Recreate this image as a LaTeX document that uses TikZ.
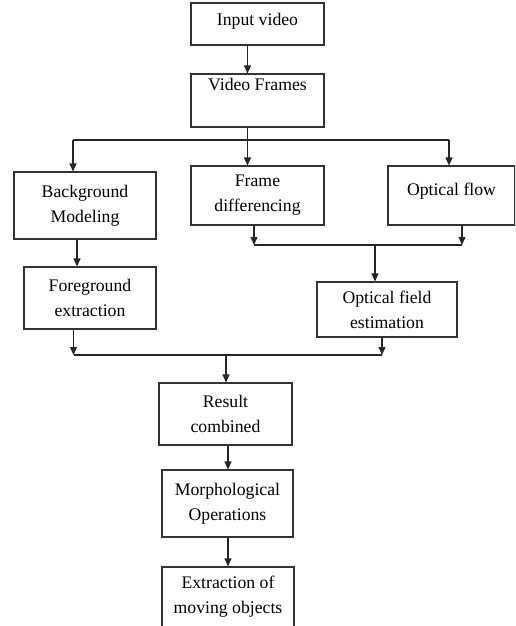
\documentclass[tikz,border=0pt]{standalone}
\usepackage{fontspec}
\setmainfont{Liberation Serif}
\usetikzlibrary{arrows.meta}
\begin{document}
\begin{tikzpicture}[x=1pt,y=-1pt,
  box/.style={draw=black!80, line width=1.1pt, rectangle, align=center,
    inner sep=0pt, font=\fontsize{17.7}{25}\selectfont},
  link/.style={draw=black!85, line width=1.1pt},
  arr/.style={link, -{Triangle[length=8pt,width=7pt]}}]
\useasboundingbox (0,0) rectangle (515,626);
\clip (0,0) rectangle (515,626);

% process boxes
\node[box, minimum width=133, minimum height=42] (inp) at (257.5,24) {Input video\\[-16pt]\mbox{}};
\node[box, minimum width=133, minimum height=53] (vf) at (257.5,100.5) {Video Frames\\\strut};
\node[box, minimum width=142, minimum height=67] (bg) at (85,205.5) {Background\\Modeling};
\node[box, minimum width=133, minimum height=59] (fd) at (257.5,195.5) {Frame\\differencing};
\node[box, minimum width=127, minimum height=59] (of) at (451.5,195.5) {Optical flow\\[-12pt]\mbox{}};
\node[box, minimum width=132, minimum height=62] (fg) at (90,298) {Foreground\\extraction};
\node[box, minimum width=140, minimum height=55] (ofe) at (387,309.5) {Optical field\\estimation};
\node[box, minimum width=133, minimum height=62] (res) at (225.5,414) {Result\\combined};
\node[box, minimum width=131, minimum height=67] (mor) at (227.5,503.5) {Morphological\\Operations};
\node[box, minimum width=132, minimum height=78] (ext) at (228,606) {Extraction of\\moving objects\\[-2pt]\mbox{}};

% connector positions and bus junctions
\coordinate (xa) at (247.5,0);
\coordinate (busL) at (73,140);
\coordinate (busR) at (449,140);
\coordinate (xb) at (77,0);
\coordinate (mergeL) at (254,245);
\coordinate (mergeR) at (462,245);
\coordinate (xc) at (375,245);
\coordinate (joinL) at (73.5,355);
\coordinate (joinR) at (382,355);
\coordinate (xd) at (226,355);
\coordinate (xe) at (228,0);

% input to frames
\draw[arr] (xa |- inp.south) -- (xa |- vf.north);

% frames split to three branches
\draw[link] (busL) -- (busR);
\draw[arr] (xa |- vf.south) -- (xa |- fd.north);
\draw[arr] (busL) -- (busL |- bg.north);
\draw[arr] (busR) -- (busR |- of.north);

% background branch
\draw[arr] (xb |- bg.south) -- (xb |- fg.north);

% frame differencing and optical flow merge
\draw[link] (mergeL) -- (mergeR);
\draw[arr] (mergeL |- fd.south) -- (mergeL);
\draw[arr] (mergeR |- of.south) -- (mergeR);
\draw[arr] (xc) -- (xc |- ofe.north);

% both results combined
\draw[link] (joinL) -- (joinR);
\draw[arr] (joinL |- fg.south) -- (joinL);
\draw[arr] (joinR |- ofe.south) -- (joinR);
\draw[arr] (xd) -- (xd |- res.north);

% final stages
\draw[arr] (xe |- res.south) -- (xe |- mor.north);
\draw[arr] (xe |- mor.south) -- (xe |- ext.north);
\end{tikzpicture}
\end{document}
